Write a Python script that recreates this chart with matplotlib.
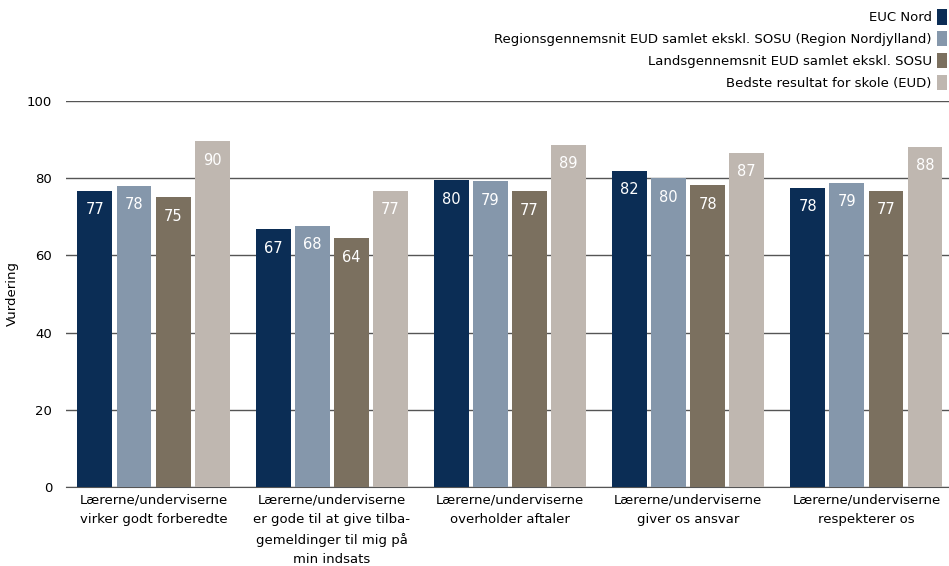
import numpy as np
import matplotlib
matplotlib.use('Agg')
import matplotlib.pyplot as plt

# kategorier og serier
categories = ['Lærerne/underviserne\nvirker godt forberedte',
              'Lærerne/underviserne\ner gode til at give tilba-\ngemeldinger til mig på\nmin indsats',
              'Lærerne/underviserne\noverholder aftaler',
              'Lærerne/underviserne\ngiver os ansvar',
              'Lærerne/underviserne\nrespekterer os']
series_names = ['EUC Nord',
                'Regionsgennemsnit EUD samlet ekskl. SOSU (Region Nordjylland)',
                'Landsgennemsnit EUD samlet ekskl. SOSU',
                'Bedste resultat for skole (EUD)']
euc_nord = [76.8, 66.8, 79.5, 81.9, 77.5]
region = [78.0, 67.6, 79.2, 80.0, 78.8]
lands = [75.1, 64.4, 76.6, 78.2, 76.7]
bedste = [89.6, 76.7, 88.6, 86.5, 88.1]
labels = [[77, 67, 80, 82, 78],
          [78, 68, 79, 80, 79],
          [75, 64, 77, 78, 77],
          [90, 77, 89, 87, 88]]
colors = ['#0b2d55', '#8597ab', '#7b705f', '#bfb7b0']
yticks = [0, 20, 40, 60, 80, 100]

plt.rcParams['font.family'] = ['DejaVu Sans']
fig = plt.figure(figsize=(9.49, 5.66), dpi=100)
ax = fig.add_axes([66/949, 79/566, 883/949, 386/566])

x = np.arange(len(categories))
width = 0.196
step = 0.219
data = [euc_nord, region, lands, bedste]
for i, vals in enumerate(data):
    bars = ax.bar(x + (i - 1.5) * step, vals, width, color=colors[i],
                  label=series_names[i], zorder=3)
    ax.bar_label(bars, labels=[str(v) for v in labels[i]], padding=-19,
                 color='white', fontsize=10.5, zorder=4)

ax.set_xlim(-0.491, 4.463)
ax.set_ylim(0, 100)
ax.set_yticks(yticks)
ax.set_xticks(x)
ax.set_xticklabels(categories, fontsize=9.5, linespacing=1.62)
ax.tick_params(axis='both', length=0, labelsize=9.5)
ax.tick_params(axis='x', pad=5)
ax.tick_params(axis='y', pad=10)
ax.yaxis.grid(True, color='#555555', linewidth=1, zorder=0)
for s in ['top', 'right', 'left']:
    ax.spines[s].set_visible(False)
ax.spines['bottom'].set_color('#555555')
ax.set_ylabel('Vurdering', fontsize=9.5, labelpad=6)

ax.legend(loc='upper right', bbox_to_anchor=(1 + 3/949, 1 - 4/566),
          bbox_transform=fig.transFigure, frameon=False, markerfirst=False,
          fontsize=9.5, handlelength=0.75, handleheight=1.4,
          handletextpad=0.4, labelspacing=0.5, borderpad=0.1,
          borderaxespad=0.3)

plt.savefig('out.png', dpi=100)
